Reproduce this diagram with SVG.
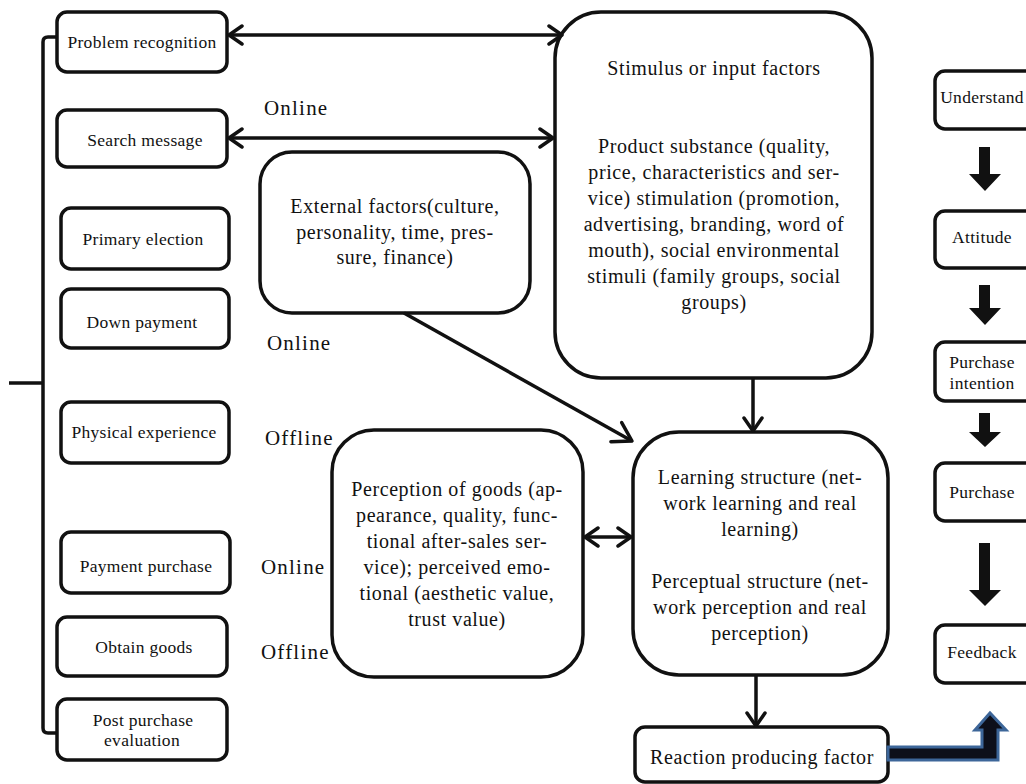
<svg xmlns="http://www.w3.org/2000/svg" width="1026" height="784" viewBox="0 0 1026 784">
  <style>
    .box { fill: #fff; stroke: #111; stroke-width: 3.5; }
    .lbl { font-family: "Liberation Serif", "Times New Roman", serif; font-size: 17.5px; letter-spacing: 0.3px; fill: #111; text-anchor: middle; }
    .big { font-family: "Liberation Serif", "Times New Roman", serif; font-size: 20px; letter-spacing: 0.6px; fill: #111; text-anchor: middle; }
    .chan { font-family: "Liberation Serif", "Times New Roman", serif; font-size: 21px; letter-spacing: 1.2px; fill: #111; }
    .wire { fill: none; stroke: #111; stroke-width: 3.5; }
    .block { fill: #111; stroke: none; }
  </style>
  <defs>
    <marker id="open" viewBox="0 0 18 22" refX="15" refY="11" markerWidth="18" markerHeight="22" markerUnits="userSpaceOnUse" orient="auto-start-reverse">
      <path d="M2,2 L15,11 L2,20" fill="none" stroke="#111" stroke-width="3.5" stroke-linejoin="round" stroke-linecap="round"/>
    </marker>
    <marker id="openBig" viewBox="0 0 24 26" refX="21" refY="13" markerWidth="24" markerHeight="26" markerUnits="userSpaceOnUse" orient="auto">
      <path d="M3,2 L21,13 L3,24" fill="none" stroke="#111" stroke-width="3.5" stroke-linejoin="round" stroke-linecap="round"/>
    </marker>
  </defs>

  <!-- bracket grouping the purchase stages -->
  <g id="bracket">
    <path class="wire" d="M57,37 H48 Q43,37 43,42 V728 Q43,733 48,733 H57"/>
    <path class="wire" d="M9,383 H43"/>
  </g>

  <!-- purchase stage column -->
  <g id="problem-recognition">
    <rect class="box" x="57" y="12" width="170" height="60" rx="10"/>
    <text class="lbl" x="142" y="48">Problem recognition</text>
  </g>
  <g id="search-message">
    <rect class="box" x="57" y="110" width="170" height="57" rx="10"/>
    <text class="lbl" x="145" y="146">Search message</text>
  </g>
  <g id="primary-election">
    <rect class="box" x="61" y="208" width="168" height="61" rx="10"/>
    <text class="lbl" x="143" y="245">Primary election</text>
  </g>
  <g id="down-payment">
    <rect class="box" x="61" y="289" width="168" height="59" rx="10"/>
    <text class="lbl" x="142" y="328">Down payment</text>
  </g>
  <g id="physical-experience">
    <rect class="box" x="61" y="402" width="168" height="61" rx="10"/>
    <text class="lbl" x="144" y="438">Physical experience</text>
  </g>
  <g id="payment-purchase">
    <rect class="box" x="61" y="532" width="169" height="61" rx="10"/>
    <text class="lbl" x="146" y="572">Payment purchase</text>
  </g>
  <g id="obtain-goods">
    <rect class="box" x="57" y="617" width="170" height="59" rx="10"/>
    <text class="lbl" x="144" y="653">Obtain goods</text>
  </g>
  <g id="post-purchase-evaluation">
    <rect class="box" x="57" y="699" width="170" height="61" rx="10"/>
    <text class="lbl" x="143" y="726">Post purchase</text>
    <text class="lbl" x="142" y="746">evaluation</text>
  </g>

  <!-- channel labels -->
  <g id="channels">
    <text class="chan" x="264" y="115">Online</text>
    <text class="chan" x="267" y="350">Online</text>
    <text class="chan" x="265" y="445">Offline</text>
    <text class="chan" x="261" y="574">Online</text>
    <text class="chan" x="261" y="659">Offline</text>
  </g>

  <!-- central model -->
  <g id="external-factors">
    <rect class="box" x="260" y="152" width="270" height="161" rx="32"/>
    <text class="big" x="395" y="213">External factors(culture,</text>
    <text class="big" x="395" y="238.5">personality, time, pres-</text>
    <text class="big" x="395" y="264">sure, finance)</text>
  </g>
  <g id="stimulus-factors">
    <rect class="box" x="555" y="12" width="317" height="366" rx="46"/>
    <text class="big" x="714" y="75">Stimulus or input factors</text>
    <text class="big" x="714" y="153">Product substance (quality,</text>
    <text class="big" x="714" y="179">price, characteristics and ser-</text>
    <text class="big" x="714" y="205">vice) stimulation (promotion,</text>
    <text class="big" x="714" y="231">advertising, branding, word of</text>
    <text class="big" x="714" y="257">mouth), social environmental</text>
    <text class="big" x="714" y="283">stimuli (family groups, social</text>
    <text class="big" x="714" y="309">groups)</text>
  </g>
  <g id="perception-of-goods">
    <rect class="box" x="332" y="430" width="251" height="247" rx="42"/>
    <text class="big" x="457" y="496">Perception of goods (ap-</text>
    <text class="big" x="457" y="522">pearance, quality, func-</text>
    <text class="big" x="457" y="548">tional after-sales ser-</text>
    <text class="big" x="457" y="574">vice); perceived emo-</text>
    <text class="big" x="457" y="600">tional (aesthetic value,</text>
    <text class="big" x="457" y="626">trust value)</text>
  </g>
  <g id="learning-perceptual-structure">
    <rect class="box" x="633" y="432" width="255" height="243" rx="46"/>
    <text class="big" x="760" y="484">Learning structure (net-</text>
    <text class="big" x="760" y="510">work learning and real</text>
    <text class="big" x="760" y="536">learning)</text>
    <text class="big" x="760" y="588">Perceptual structure (net-</text>
    <text class="big" x="760" y="614">work perception and real</text>
    <text class="big" x="760" y="640">perception)</text>
  </g>
  <g id="reaction-factor">
    <rect class="box" x="635" y="727" width="253" height="55" rx="10"/>
    <text class="big" x="762" y="764">Reaction producing factor</text>
  </g>

  <!-- response stages column -->
  <g id="understand">
    <rect class="box" x="935" y="71" width="110" height="58" rx="10"/>
    <text class="lbl" x="982" y="103">Understand</text>
  </g>
  <g id="attitude">
    <rect class="box" x="935" y="211" width="110" height="57" rx="10"/>
    <text class="lbl" x="982" y="243">Attitude</text>
  </g>
  <g id="purchase-intention">
    <rect class="box" x="935" y="342" width="110" height="59" rx="10"/>
    <text class="lbl" x="982" y="368">Purchase</text>
    <text class="lbl" x="982" y="389">intention</text>
  </g>
  <g id="purchase">
    <rect class="box" x="935" y="463" width="110" height="58" rx="10"/>
    <text class="lbl" x="982" y="498">Purchase</text>
  </g>
  <g id="feedback">
    <rect class="box" x="935" y="625" width="110" height="58" rx="10"/>
    <text class="lbl" x="982" y="658">Feedback</text>
  </g>

  <!-- connectors -->
  <g id="connectors">
    <path class="wire" d="M229,35 H562" marker-start="url(#open)" marker-end="url(#open)"/>
    <path class="wire" d="M229,138 H553" marker-start="url(#open)" marker-end="url(#open)"/>
    <path class="wire" d="M404,313 L632,441" marker-end="url(#openBig)"/>
    <path class="wire" d="M753,378 V431" marker-end="url(#open)"/>
    <path class="wire" d="M585,537 H631" marker-start="url(#open)" marker-end="url(#open)"/>
    <path class="wire" d="M756,675 V726" marker-end="url(#open)"/>
    <polygon class="block" points="979,147 990,147 990,174 1001,174 985,191 969,174 979,174"/>
    <polygon class="block" points="979,285 990,285 990,308 1001,308 985,325 969,308 979,308"/>
    <polygon class="block" points="979,413 990,413 990,432 1001,432 985,447 969,432 979,432"/>
    <polygon class="block" points="979,543 990,543 990,590 1001,590 985,606 969,590 979,590"/>
    <polygon points="888,747 982,747 982,730 975,730 990,713 1006,730 998,730 998,760 888,760" fill="#0d0f1a" stroke="#3d6699" stroke-width="3" stroke-linejoin="miter"/>
  </g>
</svg>
